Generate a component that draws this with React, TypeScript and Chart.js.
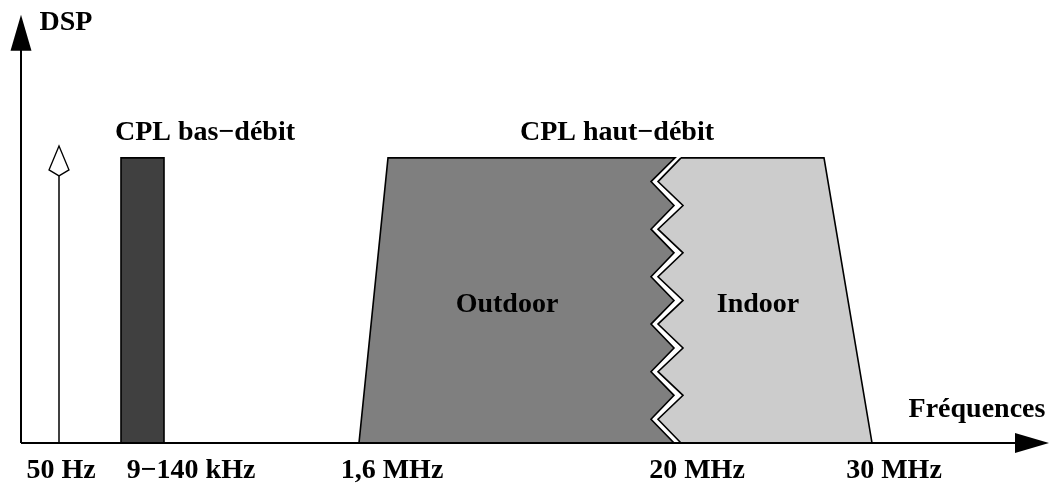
import React, { useEffect, useRef } from "react";
import { Chart, registerables } from "chart.js";

Chart.register(...registerables);

// Diagram coordinate system: x = schematic frequency position, y = DSP level (0 = floor, 1 = plateau)
const X_RANGE = [0, 1057];
const Y_RANGE = [-0.144, 1.554];

// 50 Hz mains line and its marker
const mainsX = [59, 59];
const mainsY = [0, 0.937];
const mainsMarkerX = [59, 49, 59, 69, 59];
const mainsMarkerY = [0.937, 0.958, 1.042, 0.958, 0.937];

// CPL bas-débit band (9–140 kHz)
const lowRateX = [121, 121, 164, 164, 121];
const lowRateY = [0, 1, 1, 0, 0];

// CPL haut-débit Outdoor (1,6 – 20 MHz) with zigzag right edge
const outdoorX = [359, 388, 675, 651, 674, 651, 674, 651, 674, 651, 674, 651, 674, 651, 674, 359];
const outdoorY = [0, 1, 1, 0.917, 0.833, 0.75, 0.667, 0.583, 0.5, 0.417, 0.333, 0.25, 0.167, 0.083, 0, 0];

// CPL haut-débit Indoor (20 – 30 MHz) with zigzag left edge
const indoorX = [681, 824, 872, 681, 658, 683, 658, 683, 658, 683, 658, 683, 658, 683, 658, 681];
const indoorY = [1, 1, 0, 0, 0.083, 0.167, 0.25, 0.333, 0.417, 0.5, 0.583, 0.667, 0.75, 0.833, 0.917, 1];

// Axes
const axisOriginX = 21;
const axisEndX = 1049;
const axisEndY = 1.502;

// Frequency tick labels
const tickLabels = ["50 Hz", "9−140 kHz", "1,6 MHz", "20 MHz", "30 MHz"];
const tickPositions = [61, 191, 392, 697, 894];
const tickLevel = -0.123;

// Annotations
const noteTexts = ["DSP", "CPL bas−débit", "CPL haut−débit", "Outdoor", "Indoor", "Fréquences"];
const noteX = [66, 205, 617, 507, 758, 977];
const noteY = [1.449, 1.063, 1.063, 0.46, 0.46, 0.091];

const FONT = 'bold 28px "Liberation Serif", "Times New Roman", serif';

function toPts(xs: number[], ys: number[]) {
  return xs.map((x, i) => ({ x, y: ys[i] }));
}

const polygonFill = {
  id: "polygonFill",
  beforeDatasetsDraw(chart: any) {
    const { ctx, scales } = chart;
    const xs = scales.x;
    const ys = scales.y;
    chart.data.datasets.forEach((ds: any) => {
      if (!ds.polyFill) return;
      ctx.save();
      ctx.beginPath();
      ds.data.forEach((p: any, i: number) => {
        const px = xs.getPixelForValue(p.x);
        const py = ys.getPixelForValue(p.y);
        if (i === 0) ctx.moveTo(px, py);
        else ctx.lineTo(px, py);
      });
      ctx.closePath();
      ctx.fillStyle = ds.polyFill;
      ctx.fill();
      ctx.restore();
    });
  },
};

const axesAndText = {
  id: "axesAndText",
  afterDatasetsDraw(chart: any) {
    const { ctx, scales } = chart;
    const xs = scales.x;
    const ys = scales.y;
    const ox = xs.getPixelForValue(axisOriginX);
    const oy = ys.getPixelForValue(0);
    const ex = xs.getPixelForValue(axisEndX);
    const ey = ys.getPixelForValue(axisEndY);
    ctx.save();
    ctx.strokeStyle = "#000";
    ctx.fillStyle = "#000";
    ctx.lineWidth = 2;
    // x axis
    ctx.beginPath();
    ctx.moveTo(ox, oy);
    ctx.lineTo(ex - 30, oy);
    ctx.stroke();
    ctx.beginPath();
    ctx.moveTo(ex, oy);
    ctx.lineTo(ex - 34, oy - 10);
    ctx.lineTo(ex - 34, oy + 10);
    ctx.closePath();
    ctx.fill();
    // y axis
    ctx.beginPath();
    ctx.moveTo(ox, oy);
    ctx.lineTo(ox, ey + 30);
    ctx.stroke();
    ctx.beginPath();
    ctx.moveTo(ox, ey);
    ctx.lineTo(ox - 10.5, ey + 36);
    ctx.lineTo(ox + 10.5, ey + 36);
    ctx.closePath();
    ctx.fill();

    ctx.font = FONT;
    ctx.textAlign = "center";
    ctx.textBaseline = "alphabetic";
    noteTexts.forEach((t, i) => {
      ctx.fillText(t, xs.getPixelForValue(noteX[i]), ys.getPixelForValue(noteY[i]));
    });
    tickLabels.forEach((t, i) => {
      ctx.fillText(t, xs.getPixelForValue(tickPositions[i]), ys.getPixelForValue(tickLevel));
    });
    ctx.restore();
  },
};

export default function App() {
  const ref = useRef<HTMLCanvasElement | null>(null);
  useEffect(() => {
    document.body.style.margin = "0";
    const canvas = ref.current;
    if (!canvas) return;
    const lineDs = (data: any[], fill?: string, width = 1.6) => ({
      data,
      showLine: true,
      borderColor: "#000",
      borderWidth: width,
      pointRadius: 0,
      pointHoverRadius: 0,
      fill: false,
      tension: 0,
      polyFill: fill,
    });
    const chart = new Chart(canvas, {
      type: "scatter",
      data: {
        datasets: [
          lineDs(toPts(outdoorX, outdoorY), "#7f7f7f"),
          lineDs(toPts(indoorX, indoorY), "#cccccc"),
          lineDs(toPts(lowRateX, lowRateY), "#404040"),
          lineDs(toPts(mainsX, mainsY), undefined, 1.5),
          lineDs(toPts(mainsMarkerX, mainsMarkerY), "#ffffff", 1.3),
        ] as any,
      },
      options: {
        animation: false,
        responsive: false,
        maintainAspectRatio: false,
        layout: { padding: 0 },
        events: [],
        plugins: { legend: { display: false }, tooltip: { enabled: false } },
        scales: {
          x: { type: "linear", display: false, min: X_RANGE[0], max: X_RANGE[1] },
          y: { type: "linear", display: false, min: Y_RANGE[0], max: Y_RANGE[1] },
        },
      },
      plugins: [polygonFill, axesAndText],
    });
    return () => chart.destroy();
  }, []);
  return (
    <div style={{ width: 1057, height: 484, background: "#fff" }}>
      <canvas ref={ref} width={1057} height={484} style={{ display: "block" }} />
    </div>
  );
}
